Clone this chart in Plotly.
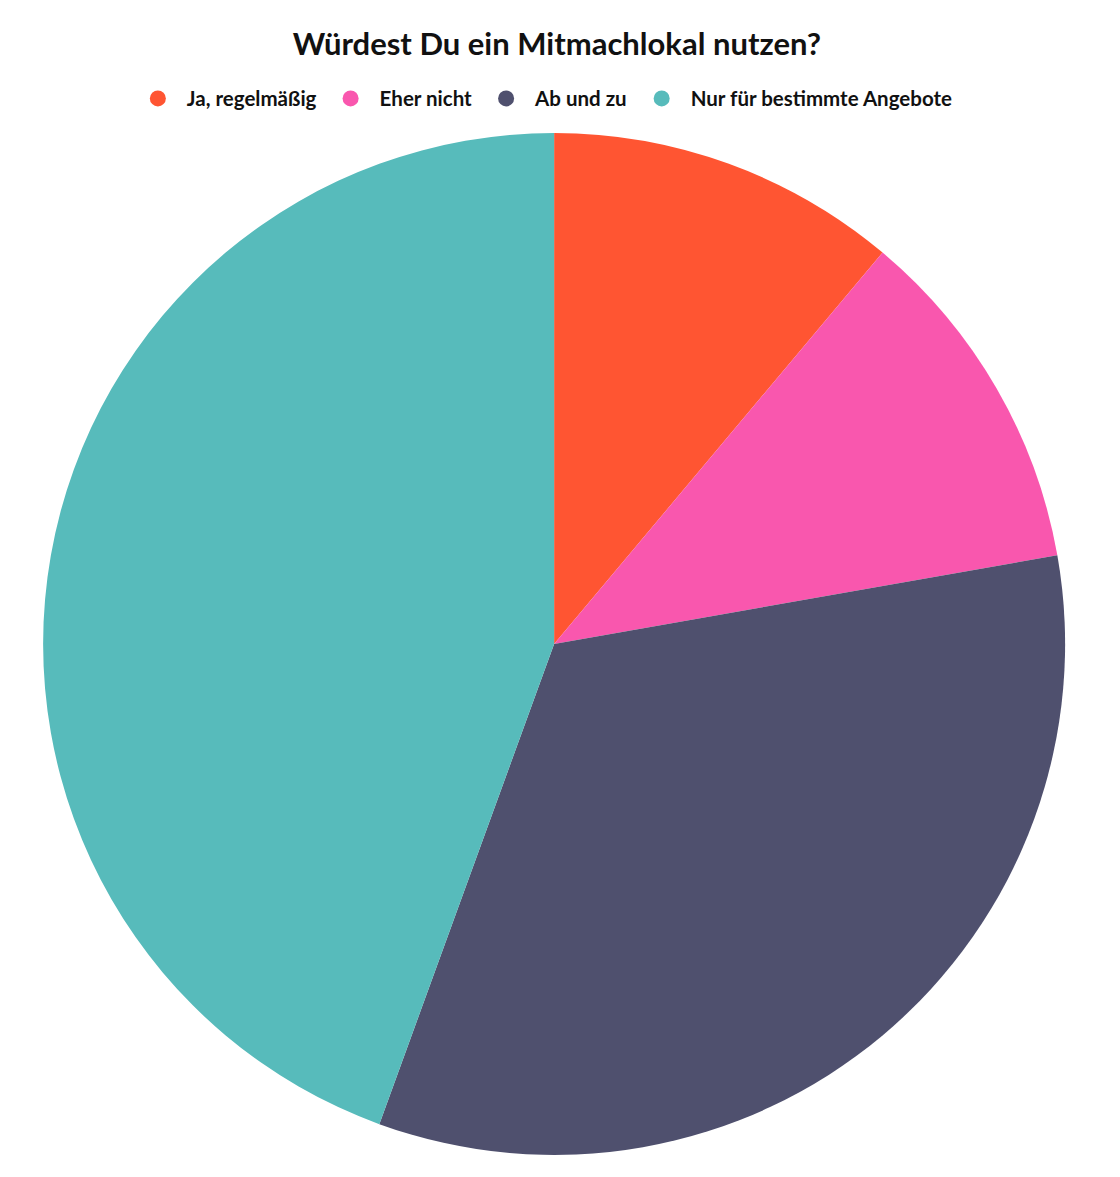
import plotly.graph_objects as go

# Data
labels = ["Ja, regelmäßig", "Eher nicht", "Ab und zu", "Nur für bestimmte Angebote"]
values = [1, 1, 3, 4]
colors = ["#FF5532", "#F957AE", "#4F506E", "#57BBBB"]

fig = go.Figure()

# Pie itself (legend drawn with circle markers below)
fig.add_trace(go.Pie(
    labels=labels, values=values, sort=False, direction="clockwise", rotation=0,
    marker=dict(colors=colors, line=dict(width=0)),
    textinfo="none", showlegend=False,
    domain=dict(x=[0.0313, 0.9439], y=[0.0255, 0.8938]),
))

# Dummy scatter traces for round legend markers
for lab, col in zip(labels, colors):
    fig.add_trace(go.Scatter(
        x=[None], y=[None], mode="markers", name=lab,
        marker=dict(color=col, size=17, symbol="circle"),
    ))

fig.update_layout(
    width=1120, height=1177,
    margin=dict(l=0, r=0, t=0, b=0),
    paper_bgcolor="white", plot_bgcolor="white",
    font=dict(family="Lato", color="#111111"),
    title=dict(text="<b>Würdest Du ein Mitmachlokal nutzen?</b>",
               x=0.490, xanchor="center", y=0.969, yanchor="middle",
               font=dict(size=31, family="Lato", color="#111111")),
    legend=dict(orientation="h", x=0.478, xanchor="center", y=0.923, yanchor="middle",
                font=dict(size=20.5, family="Lato", weight="bold", color="#111111"),
                itemsizing="trace", itemwidth=48),
    xaxis=dict(visible=False), yaxis=dict(visible=False),
)

fig.write_html("out.html")
